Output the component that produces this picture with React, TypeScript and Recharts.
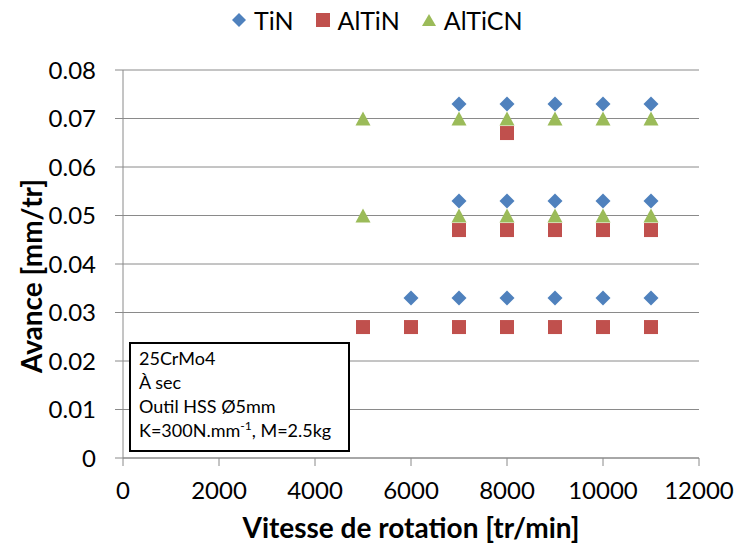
import React from 'react';
import { ScatterChart, Scatter, XAxis, YAxis, CartesianGrid } from 'recharts';

const TIN_SPEED = [6000, 7000, 8000, 9000, 10000, 11000, 7000, 8000, 9000, 10000, 11000, 7000, 8000, 9000, 10000, 11000];
const TIN_FEED = [0.033, 0.033, 0.033, 0.033, 0.033, 0.033, 0.053, 0.053, 0.053, 0.053, 0.053, 0.073, 0.073, 0.073, 0.073, 0.073];

const ALTIN_SPEED = [5000, 6000, 7000, 8000, 9000, 10000, 11000, 7000, 8000, 9000, 10000, 11000, 8000];
const ALTIN_FEED = [0.027, 0.027, 0.027, 0.027, 0.027, 0.027, 0.027, 0.047, 0.047, 0.047, 0.047, 0.047, 0.067];

const ALTICN_SPEED = [5000, 7000, 8000, 9000, 10000, 11000, 5000, 7000, 8000, 9000, 10000, 11000];
const ALTICN_FEED = [0.05, 0.05, 0.05, 0.05, 0.05, 0.05, 0.07, 0.07, 0.07, 0.07, 0.07, 0.07];

const X_TICKS = [0, 2000, 4000, 6000, 8000, 10000, 12000];
const Y_TICKS = [0, 0.01, 0.02, 0.03, 0.04, 0.05, 0.06, 0.07, 0.08];

const SERIES_NAMES = ['TiN', 'AlTiN', 'AlTiCN'];
const COLORS = ['#4F81BD', '#C0504D', '#9BBB59'];

const NOTE_LINES = ['25CrMo4', 'À sec', 'Outil HSS Ø5mm'];

const FONT = 'Lato, "Open Sans", sans-serif';
const AXIS_GRAY = '#8a8a8a';

const zip = (xs: number[], ys: number[]) => xs.map((x, i) => ({ x, y: ys[i] }));

const tinData = zip(TIN_SPEED, TIN_FEED);
const altinData = zip(ALTIN_SPEED, ALTIN_FEED);
const alticnData = zip(ALTICN_SPEED, ALTICN_FEED);

const Diamond = ({ cx, cy }: any) => (
  <path d={`M${cx},${cy - 7.5}L${cx + 7.5},${cy}L${cx},${cy + 7.5}L${cx - 7.5},${cy}Z`} fill={COLORS[0]} />
);
const Square = ({ cx, cy }: any) => (
  <rect x={cx - 7} y={cy - 7} width={14} height={14} fill={COLORS[1]} />
);
const Triangle = ({ cx, cy }: any) => (
  <path d={`M${cx},${cy - 7}L${cx + 7.5},${cy + 7}L${cx - 7.5},${cy + 7}Z`} fill={COLORS[2]} />
);

const LegendIcon = ({ index }: { index: number }) => (
  <svg width={16} height={16} viewBox="-8 -8 16 16" style={{ display: 'block' }}>
    {index === 0 && <path d="M0,-7L7,0L0,7L-7,0Z" fill={COLORS[0]} />}
    {index === 1 && <rect x={-7} y={-7} width={14} height={14} fill={COLORS[1]} />}
    {index === 2 && <path d="M0,-6L7,6L-7,6Z" fill={COLORS[2]} />}
  </svg>
);

const yFormatter = (v: number) => (v === 0 ? '0' : v.toFixed(2));

const YLabel = ({ viewBox }: any) => {
  const x = viewBox.x + 31;
  const y = viewBox.y + viewBox.height / 2 + 12;
  return (
    <text x={x} y={y} transform={`rotate(-90, ${x}, ${y})`} textAnchor="middle" dominantBaseline="central"
      fontFamily={FONT} fontSize={28} fontWeight="bold" fill="#000">
      Avance [mm/tr]
    </text>
  );
};

const XLabel = ({ viewBox }: any) => (
  <text x={viewBox.x + viewBox.width / 2} y={viewBox.y + 80} textAnchor="middle"
    fontFamily={FONT} fontSize={28} fontWeight="bold" fill="#000">
    Vitesse de rotation [tr/min]
  </text>
);

export default function App() {
  return (
    <div style={{ position: 'absolute', left: 0, top: 0, width: 739, height: 547, background: '#fff', fontFamily: FONT }}>
      <ScatterChart width={739} height={547} margin={{ top: 70, right: 40, bottom: 0, left: 0 }}>
        <CartesianGrid vertical={false} stroke={AXIS_GRAY} strokeWidth={1} />
        <XAxis type="number" dataKey="x" domain={[0, 12000]} ticks={X_TICKS} height={89}
          axisLine={{ stroke: AXIS_GRAY }} tickLine={{ stroke: AXIS_GRAY }} tickSize={8} tickMargin={16}
          tick={{ fill: '#000', fontSize: 24, fontFamily: FONT }} interval={0} label={<XLabel />} />
        <YAxis type="number" dataKey="y" domain={[0, 0.08]} ticks={Y_TICKS} width={123}
          axisLine={{ stroke: AXIS_GRAY }} tickLine={{ stroke: AXIS_GRAY }} tickSize={8} tickMargin={19}
          tick={{ fill: '#000', fontSize: 24, fontFamily: FONT }} tickFormatter={yFormatter} interval={0}
          label={<YLabel />} />
        <Scatter name={SERIES_NAMES[0]} data={tinData} shape={<Diamond />} isAnimationActive={false} />
        <Scatter name={SERIES_NAMES[1]} data={altinData} shape={<Square />} isAnimationActive={false} />
        <Scatter name={SERIES_NAMES[2]} data={alticnData} shape={<Triangle />} isAnimationActive={false} />
      </ScatterChart>

      <div style={{ position: 'absolute', left: 231, top: 5, display: 'flex', alignItems: 'center', fontSize: 25, color: '#000', lineHeight: '30px' }}>
        {SERIES_NAMES.map((name, i) => (
          <div key={name} style={{ display: 'flex', alignItems: 'center', marginRight: 21 }}>
            <LegendIcon index={i} />
            <span style={{ marginLeft: 7 }}>{name}</span>
          </div>
        ))}
      </div>

      <div style={{
        position: 'absolute', left: 129, top: 342, width: 221, height: 110, boxSizing: 'border-box',
        border: '2px solid #000', background: '#fff', padding: '2px 0 0 8px', fontSize: 18, lineHeight: '24px', color: '#000'
      }}>
        {NOTE_LINES.map(line => <div key={line}>{line}</div>)}
        <div>K=300N.mm<sup style={{ fontSize: 12, lineHeight: 0 }}>-1</sup>, M=2.5kg</div>
      </div>
    </div>
  );
}
